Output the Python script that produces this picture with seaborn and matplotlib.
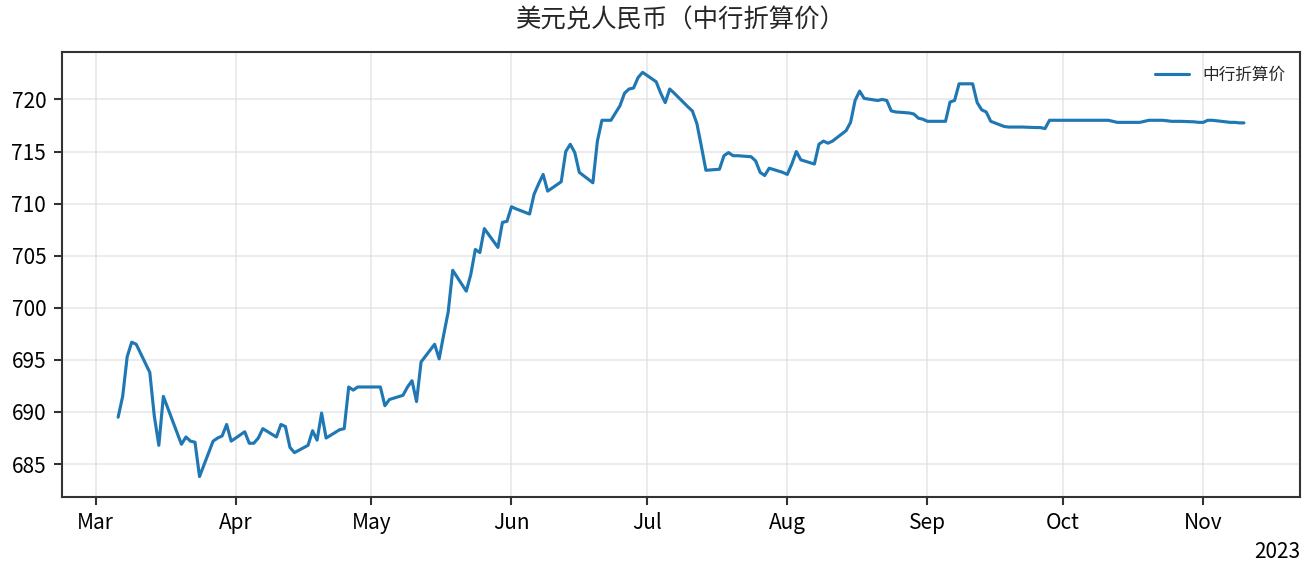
import matplotlib
matplotlib.use("Agg")
import matplotlib.pyplot as plt
import matplotlib.dates as mdates
import seaborn as sns
import pandas as pd

title = "美元兑人民币（中行折算价）"
series_name = "中行折算价"

dates = [
    "2023-03-06", "2023-03-07", "2023-03-08", "2023-03-09", "2023-03-10",
    "2023-03-13", "2023-03-14", "2023-03-15", "2023-03-16",
    "2023-03-20", "2023-03-21", "2023-03-22", "2023-03-23", "2023-03-24",
    "2023-03-27", "2023-03-28", "2023-03-29", "2023-03-30", "2023-03-31",
    "2023-04-03", "2023-04-04", "2023-04-05", "2023-04-06", "2023-04-07",
    "2023-04-10", "2023-04-11", "2023-04-12", "2023-04-13", "2023-04-14",
    "2023-04-17", "2023-04-18", "2023-04-19", "2023-04-20", "2023-04-21",
    "2023-04-24", "2023-04-25", "2023-04-26", "2023-04-27", "2023-04-28",
    "2023-05-03", "2023-05-04", "2023-05-05",
    "2023-05-08", "2023-05-09", "2023-05-10", "2023-05-11", "2023-05-12",
    "2023-05-15", "2023-05-16", "2023-05-17", "2023-05-18", "2023-05-19",
    "2023-05-22", "2023-05-23", "2023-05-24", "2023-05-25", "2023-05-26",
    "2023-05-29", "2023-05-30", "2023-05-31", "2023-06-01", "2023-06-02",
    "2023-06-05", "2023-06-06", "2023-06-07", "2023-06-08", "2023-06-09",
    "2023-06-12", "2023-06-13", "2023-06-14", "2023-06-15", "2023-06-16",
    "2023-06-19", "2023-06-20", "2023-06-21", "2023-06-23", "2023-06-25",
    "2023-06-26", "2023-06-27", "2023-06-28", "2023-06-29", "2023-06-30",
    "2023-07-03", "2023-07-04", "2023-07-05", "2023-07-06", "2023-07-07",
    "2023-07-10", "2023-07-11", "2023-07-12", "2023-07-13", "2023-07-14",
    "2023-07-17", "2023-07-18", "2023-07-19", "2023-07-20", "2023-07-21",
    "2023-07-24", "2023-07-25", "2023-07-26", "2023-07-27", "2023-07-28",
    "2023-07-31", "2023-08-01", "2023-08-02", "2023-08-03", "2023-08-04",
    "2023-08-07", "2023-08-08", "2023-08-09", "2023-08-10", "2023-08-11",
    "2023-08-14", "2023-08-15", "2023-08-16", "2023-08-17", "2023-08-18",
    "2023-08-21", "2023-08-22", "2023-08-23", "2023-08-24", "2023-08-25",
    "2023-08-28", "2023-08-29", "2023-08-30", "2023-08-31", "2023-09-01",
    "2023-09-04", "2023-09-05", "2023-09-06", "2023-09-07", "2023-09-08",
    "2023-09-11", "2023-09-12", "2023-09-13", "2023-09-14", "2023-09-15",
    "2023-09-18", "2023-09-19", "2023-09-20", "2023-09-21", "2023-09-22",
    "2023-09-25", "2023-09-26", "2023-09-27", "2023-09-28",
    "2023-10-06", "2023-10-09", "2023-10-10", "2023-10-11", "2023-10-12", "2023-10-13",
    "2023-10-16", "2023-10-17", "2023-10-18", "2023-10-19", "2023-10-20",
    "2023-10-23", "2023-10-24", "2023-10-25", "2023-10-26", "2023-10-27",
    "2023-10-30", "2023-10-31", "2023-11-01", "2023-11-02", "2023-11-03",
    "2023-11-06", "2023-11-07", "2023-11-08", "2023-11-09", "2023-11-10",
]

values = [
    689.5, 691.5, 695.3, 696.7, 696.5,
    693.8, 689.6, 686.8, 691.5,
    686.9, 687.6, 687.2, 687.1, 683.8,
    687.2, 687.5, 687.7, 688.8, 687.2,
    688.1, 687.0, 687.0, 687.5, 688.4,
    687.6, 688.8, 688.6, 686.6, 686.1,
    686.8, 688.2, 687.3, 689.9, 687.5,
    688.3, 688.4, 692.4, 692.1, 692.4,
    692.4, 690.6, 691.2,
    691.6, 692.4, 693.0, 691.0, 694.8,
    696.5, 695.1, 697.4, 699.6, 703.6,
    701.6, 703.2, 705.6, 705.3, 707.6,
    705.8, 708.2, 708.3, 709.7, 709.5,
    709.0, 710.9, 711.9, 712.8, 711.2,
    712.1, 715.0, 715.7, 714.9, 713.0,
    712.0, 716.0, 718.0, 718.0, 719.4,
    720.6, 721.0, 721.1, 722.1, 722.6,
    721.7, 720.6, 719.7, 721.0, 720.6,
    719.3, 718.9, 717.7, 715.5, 713.2,
    713.3, 714.6, 714.9, 714.6, 714.6,
    714.5, 714.1, 713.0, 712.7, 713.4,
    713.0, 712.8, 713.8, 715.0, 714.2,
    713.8, 715.7, 716.0, 715.8, 716.0,
    717.0, 717.8, 719.9, 720.8, 720.1,
    719.9, 720.0, 719.9, 718.9, 718.8,
    718.7, 718.6, 718.2, 718.1, 717.9,
    717.9, 717.9, 719.75, 719.9, 721.5,
    721.5, 719.7, 719.0, 718.8, 717.9,
    717.4, 717.35, 717.35, 717.35, 717.35,
    717.3, 717.3, 717.2, 718.0,
    718.0, 718.0, 718.0, 718.0, 717.9, 717.8,
    717.8, 717.8, 717.8, 717.9, 718.0,
    718.0, 717.95, 717.9, 717.9, 717.9,
    717.85, 717.8, 717.8, 718.0, 718.0,
    717.85, 717.8, 717.8, 717.75, 717.75,
]

df = pd.DataFrame({"date": pd.to_datetime(dates), "value": values, "series": series_name})

sns.set_theme(style="ticks")
plt.rcParams["font.family"] = ["Noto Sans CJK SC", "DejaVu Sans"]
plt.rcParams["axes.unicode_minus"] = False

fig = plt.figure(figsize=(1316 / 150, 573 / 150), dpi=150)
ax = fig.add_axes([0.047, 0.133, 0.941, 0.776])

sns.lineplot(data=df, x="date", y="value", hue="series", palette=["#1f77b4"],
             linewidth=1.5, ax=ax)

ax.grid(True, color="#dddddd", linewidth=0.8, alpha=0.7)
for s in ax.spines.values():
    s.set_color("#333333")
    s.set_linewidth(1.0)
ax.tick_params(axis="both", labelsize=10, colors="#333333", labelcolor="black",
               length=4, width=1)

locator = mdates.MonthLocator()
ax.xaxis.set_major_locator(locator)
ax.xaxis.set_major_formatter(mdates.ConciseDateFormatter(locator))
ax.xaxis.get_offset_text().set_fontsize(10)
ax.set_xlabel("")
ax.set_ylabel("")
ax.set_title(title, fontsize=12.2, pad=12)
ax.margins(x=0.05, y=0.05)

leg = ax.legend(loc="upper right", frameon=False, fontsize=8, title=None)

fig.savefig("out.png", dpi=150)
